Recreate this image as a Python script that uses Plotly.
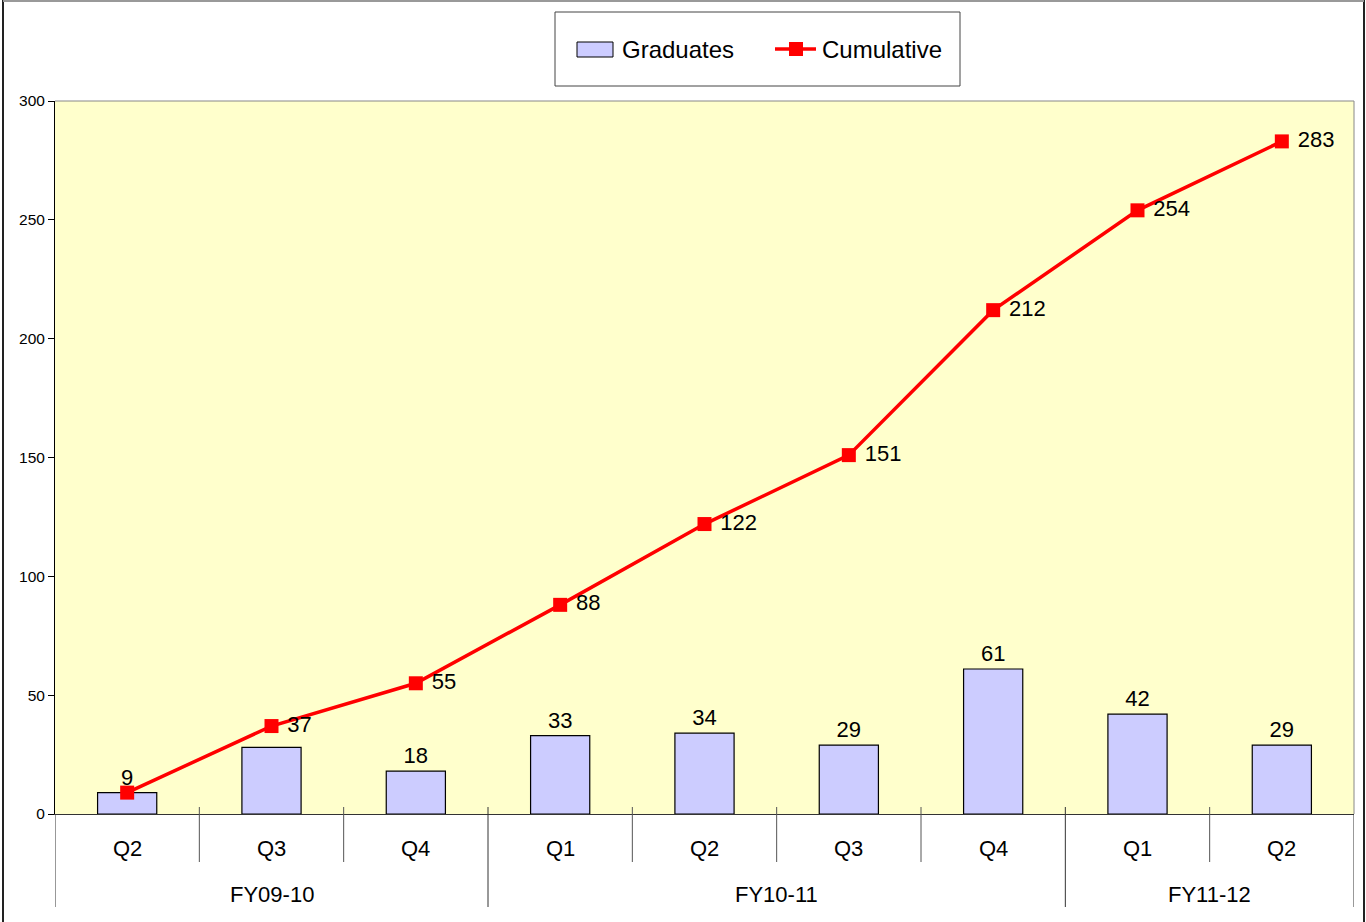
import plotly.graph_objects as go

quarters = ["Q2", "Q3", "Q4", "Q1", "Q2", "Q3", "Q4", "Q1", "Q2"]
fiscal_years = ["FY09-10", "FY10-11", "FY11-12"]
fy_counts = [3, 4, 2]
graduates = [9, 28, 18, 33, 34, 29, 61, 42, 29]
cumulative = [9, 37, 55, 88, 122, 151, 212, 254, 283]
grad_labels = ["9", "", "18", "33", "34", "29", "61", "42", "29"]
cum_labels = ["", "37", "55", "88", "122", "151", "212", "254", "283"]
series_names = ["Graduates", "Cumulative"]

FONT = "Liberation Sans, Arial, sans-serif"
W, H = 1366, 922
ML, MR, MT, MB = 55, 12, 101, 108
PW, PH = W - ML - MR, H - MT - MB


def px(xp):
    return (xp - ML) / PW


def py(yp):
    return (H - MB - yp) / PH


x = list(range(len(quarters)))

fig = go.Figure()
fig.add_trace(go.Bar(
    x=x, y=graduates, name=series_names[0], width=0.41,
    marker=dict(color="#CCCCFF", line=dict(color="#000000", width=1.2)),
    text=grad_labels, textposition="outside", cliponaxis=False,
    textfont=dict(family=FONT, size=22, color="#000000"),
    hoverinfo="skip", showlegend=False,
))
fig.add_trace(go.Scatter(
    x=x, y=cumulative, name=series_names[1], mode="lines+markers+text",
    line=dict(color="#FF0000", width=3.5),
    marker=dict(symbol="square", size=14, color="#FF0000"),
    text=[" " + t if t else "" for t in cum_labels], textposition="middle right",
    textfont=dict(family=FONT, size=22, color="#000000"),
    cliponaxis=False, hoverinfo="skip", showlegend=False,
))

shapes = []
annotations = []
boundaries = []
start = 0
for c in fy_counts:
    boundaries.append(start - 0.5)
    start += c
boundaries.append(start - 0.5)
for i in range(len(quarters) - 1):
    b = i + 0.5
    if b not in boundaries:
        shapes.append(dict(type="line", xref="x", yref="paper", x0=b, x1=b,
                           y0=py(862), y1=py(807), line=dict(color="#555555", width=1)))
for b in boundaries:
    shapes.append(dict(type="line", xref="x", yref="paper", x0=b, x1=b,
                       y0=py(907), y1=py(807) if 0 < b < len(quarters) - 1 else 0,
                       line=dict(color="#333333", width=1)))
for i, q in enumerate(quarters):
    annotations.append(dict(x=i, y=py(848), xref="x", yref="paper", text=q, showarrow=False,
                            font=dict(family=FONT, size=22, color="#000000"),
                            xanchor="center", yanchor="middle"))
start = 0
for fy, c in zip(fiscal_years, fy_counts):
    annotations.append(dict(x=start + (c - 1) / 2, y=py(894), xref="x", yref="paper", text=fy,
                            showarrow=False, font=dict(family=FONT, size=22, color="#000000"),
                            xanchor="center", yanchor="middle"))
    start += c

# plot area top/right gray border
shapes.append(dict(type="line", xref="paper", yref="paper", x0=0, x1=1, y0=1, y1=1,
                   line=dict(color="#888888", width=1)))
shapes.append(dict(type="line", xref="paper", yref="paper", x0=1, x1=1, y0=0, y1=1,
                   line=dict(color="#888888", width=1)))

# legend (drawn)
shapes.append(dict(type="rect", xref="paper", yref="paper", x0=px(555), x1=px(960),
                   y0=py(86), y1=py(12), line=dict(color="#444444", width=1), fillcolor="white"))
shapes.append(dict(type="rect", xref="paper", yref="paper", x0=px(577), x1=px(613),
                   y0=py(57), y1=py(42), line=dict(color="#000000", width=1), fillcolor="#CCCCFF"))
shapes.append(dict(type="line", xref="paper", yref="paper", x0=px(775), x1=px(816),
                   y0=py(49), y1=py(49), line=dict(color="#FF0000", width=3.5)))
shapes.append(dict(type="rect", xref="paper", yref="paper", x0=px(789), x1=px(803),
                   y0=py(56), y1=py(42), line=dict(color="#FF0000", width=0), fillcolor="#FF0000"))
annotations.append(dict(x=px(620), y=py(50), xref="paper", yref="paper", text=series_names[0],
                        showarrow=False, xanchor="left", yanchor="middle",
                        font=dict(family=FONT, size=24, color="#000000")))
annotations.append(dict(x=px(820), y=py(50), xref="paper", yref="paper", text=series_names[1],
                        showarrow=False, xanchor="left", yanchor="middle",
                        font=dict(family=FONT, size=24, color="#000000")))

# outer chart frame
shapes.append(dict(type="line", xref="paper", yref="paper", x0=px(3), x1=px(3),
                   y0=py(925), y1=py(0), line=dict(color="#222222", width=2)))
shapes.append(dict(type="line", xref="paper", yref="paper", x0=px(1364), x1=px(1364),
                   y0=py(925), y1=py(0), line=dict(color="#222222", width=2)))
shapes.append(dict(type="line", xref="paper", yref="paper", x0=px(3), x1=px(1364),
                   y0=py(1), y1=py(1), line=dict(color="#999999", width=2)))

fig.update_layout(
    width=W, height=H,
    margin=dict(l=ML, r=MR, t=MT, b=MB),
    paper_bgcolor="white", plot_bgcolor="#FFFFCC",
    font=dict(family=FONT, color="#000000"),
    showlegend=False,
    xaxis=dict(range=[-0.5, 8.5], showticklabels=False, showgrid=False, zeroline=False,
               showline=True, linecolor="#333333", linewidth=1, ticks="", fixedrange=True),
    yaxis=dict(range=[0, 300], tickvals=[0, 50, 100, 150, 200, 250, 300], showgrid=False,
               zeroline=False, showline=True, linecolor="#000000", linewidth=1,
               ticks="outside", ticklen=6, tickcolor="#000000",
               tickfont=dict(family=FONT, size=15.5, color="#000000"), fixedrange=True),
    shapes=shapes, annotations=annotations,
)

fig.write_html("out.html", config={"displayModeBar": False},
               post_script="document.body.style.margin='0px';")
